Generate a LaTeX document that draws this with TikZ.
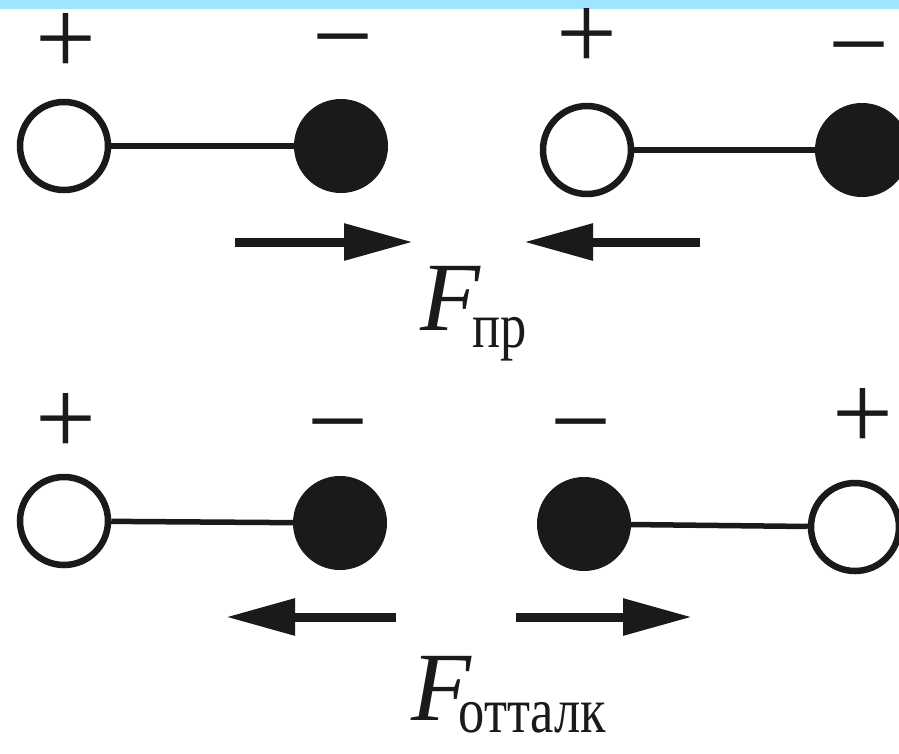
\documentclass[tikz,border=0pt]{standalone}
\usepackage{fontspec}
\usepackage{graphicx}
\setmainfont{Liberation Serif}
\newfontfamily\lserif{Liberation Serif}
\usetikzlibrary{arrows.meta}
\definecolor{bandblue}{RGB}{158,230,255}
\definecolor{ink}{RGB}{28,25,26}
\newcommand{\subtxt}[1]{\scalebox{0.82}[1]{\fontsize{64}{64}\selectfont #1}}
\begin{document}
\begin{tikzpicture}[x=1pt,y=-1pt,
  openatom/.style={circle,draw=ink,fill=white,line width=6.5pt,minimum size=88pt,inner sep=0pt},
  fullatom/.style={circle,draw=ink,fill=ink,line width=1pt,minimum size=93pt,inner sep=0pt},
  bond/.style={draw=ink,line width=5.5pt},
  force/.style={draw=ink,line width=9pt,-{Triangle[length=69pt,width=35pt]}},
  sign/.style={anchor=base,inner sep=0pt,text=ink,font=\lserif\fontsize{108}{108}\selectfont},
  flabel/.style={anchor=base west,inner sep=0pt,text=ink,font=\lserif\fontsize{98}{98}\selectfont}]
\fill[white] (0,0) rectangle (899,753);
\useasboundingbox (0,0) rectangle (899,753);
\fill[bandblue] (0,0) rectangle (899,9);
% row 1
\node[openatom] (a1) at (64,146) {};
\node[fullatom] (b1) at (341,146) {};
\node[openatom] (a2) at (587,150) {};
\node[fullatom] (b2) at (862,150) {};
\draw[bond] (a1) -- (b1);
\draw[bond] (a2) -- (b2);
\node[sign] (p1) at (66,74) {+};
\node[sign] (m1) at (343,72) {−};
\node[sign] (p2) at (587,69) {+};
\node[sign] (m2) at (859,80) {−};
\coordinate (r1s) at (235,242);
\coordinate (r1e) at (413,242);
\coordinate (l1s) at (700,242);
\coordinate (l1e) at (524,242);
\draw[force] (r1s) -- (r1e);
\draw[force] (l1s) -- (l1e);
\node[flabel] (F1) at (420,330) {\textit{F}\kern-8pt\raisebox{-17pt}{\subtxt{пр}}};
% row 2
\node[openatom] (c1) at (64,521) {};
\node[fullatom] (d1) at (340,523) {};
\node[fullatom] (d2) at (584,524) {};
\node[openatom] (c2) at (855,527) {};
\draw[bond] (c1) -- (d1);
\draw[bond] (d2) -- (c2);
\node[sign] (p3) at (66,454) {+};
\node[sign] (m3) at (338,457) {−};
\node[sign] (m4) at (581,457) {−};
\node[sign] (p4) at (863,449) {+};
\coordinate (l2s) at (396,617);
\coordinate (l2e) at (226,617);
\coordinate (r2s) at (516,617);
\coordinate (r2e) at (692,617);
\draw[force] (l2s) -- (l2e);
\draw[force] (r2s) -- (r2e);
\node[flabel] (F2) at (411,720) {\textit{F}\kern-13pt\raisebox{-12pt}{\subtxt{отталк}}};
\end{tikzpicture}
\end{document}
